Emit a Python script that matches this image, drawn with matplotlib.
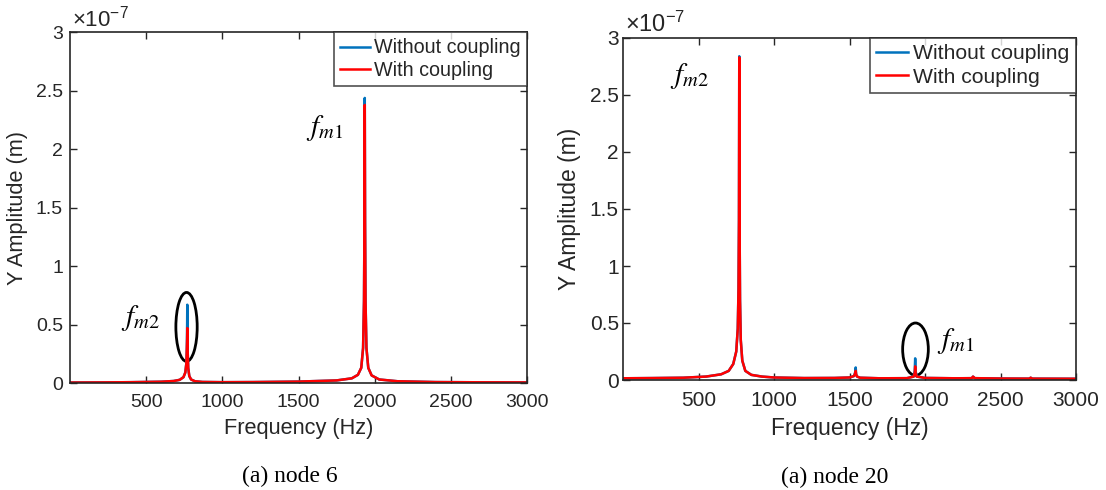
import matplotlib
matplotlib.use("Agg")
import matplotlib.pyplot as plt
from matplotlib.patches import Ellipse
from matplotlib.ticker import FuncFormatter
import numpy as np

# ---------------- data (amplitudes in units of 1e-7 m) ----------------
left_freq = [0, 200, 400, 600, 680, 720, 745, 757, 764, 767,
             769, 770, 771, 773, 776, 783, 795, 820, 870, 1000,
             1200, 1500, 1750, 1850, 1890, 1912, 1924, 1930, 1933, 1935,
             1937, 1940, 1946, 1958, 1980, 2030, 2150, 2400, 2700, 3000]
left_without = [0.004, 0.005, 0.007, 0.011, 0.017, 0.027, 0.05, 0.09, 0.17, 0.3,
                0.5, 0.67, 0.5, 0.25, 0.13, 0.06, 0.03, 0.015, 0.009, 0.007,
                0.008, 0.012, 0.022, 0.04, 0.07, 0.13, 0.3, 0.7, 1.4, 2.44,
                1.4, 0.7, 0.3, 0.13, 0.065, 0.03, 0.015, 0.008, 0.006, 0.005]
left_with = [0.004, 0.005, 0.007, 0.011, 0.017, 0.027, 0.05, 0.09, 0.17, 0.3,
             0.38, 0.47, 0.38, 0.25, 0.13, 0.06, 0.03, 0.015, 0.009, 0.007,
             0.008, 0.012, 0.022, 0.04, 0.07, 0.13, 0.3, 0.7, 1.35, 2.38,
             1.35, 0.7, 0.3, 0.13, 0.065, 0.03, 0.015, 0.008, 0.006, 0.005]

right_freq = [0, 200, 400, 550, 650, 700, 730, 750, 760, 765,
              768, 770, 772, 775, 780, 790, 810, 850, 920, 1000,
              1200, 1400, 1500, 1530, 1538, 1541, 1544, 1550, 1570, 1700,
              1880, 1925, 1932, 1935, 1938, 1945, 2000, 2200, 2310, 2318,
              2322, 2330, 2500, 2690, 2700, 2710, 3000]
right_without = [0.015, 0.017, 0.02, 0.03, 0.05, 0.08, 0.14, 0.25, 0.45, 0.8,
                 1.4, 2.84, 1.4, 0.7, 0.35, 0.17, 0.08, 0.045, 0.03, 0.022,
                 0.017, 0.018, 0.022, 0.035, 0.07, 0.11, 0.05, 0.03, 0.02, 0.015,
                 0.016, 0.03, 0.08, 0.19, 0.08, 0.03, 0.018, 0.015, 0.016, 0.03,
                 0.025, 0.016, 0.013, 0.012, 0.02, 0.012, 0.011]
right_with = [0.015, 0.017, 0.02, 0.03, 0.05, 0.08, 0.14, 0.25, 0.45, 0.8,
              1.4, 2.83, 1.4, 0.7, 0.35, 0.17, 0.08, 0.045, 0.03, 0.022,
              0.017, 0.018, 0.022, 0.035, 0.06, 0.08, 0.05, 0.03, 0.02, 0.015,
              0.016, 0.03, 0.06, 0.12, 0.06, 0.03, 0.018, 0.015, 0.016, 0.03,
              0.025, 0.016, 0.013, 0.012, 0.02, 0.012, 0.011]

series_labels = ["Without coupling", "With coupling"]
x_ticks = [500, 1000, 1500, 2000, 2500, 3000]
y_ticks = [0, 0.5, 1, 1.5, 2, 2.5, 3]
captions = ["(a) node 6", "(a) node 20"]
SCALE = 1e-7

BLUE = "#0072BD"
RED = "#FF0000"
DARK = "#262626"

plt.rcParams["font.family"] = ["Liberation Sans", "DejaVu Sans"]
plt.rcParams["mathtext.fontset"] = "stix"

fig = plt.figure(figsize=(11.06, 4.90), dpi=100)

W, H = 1106, 490
# per-panel layout (pixel boxes) and text sizes
cfg = [
    dict(box=(70, 32.5, 527, 383), tick=14, lab=15.7, leg=14.2, off=16),
    dict(box=(623, 38, 1076, 380), tick=15, lab=16.5, leg=15.2, off=17),
]
panels = [
    (left_freq, left_without, left_with),
    (right_freq, right_without, right_with),
]

fmt = FuncFormatter(lambda v, p: "%g" % round(v / SCALE, 3))

for i, (c, (fr, wo, wi)) in enumerate(zip(cfg, panels)):
    x0, y0, x1, y1 = c["box"]
    ax = fig.add_axes([x0 / W, 1 - y1 / H, (x1 - x0) / W, (y1 - y0) / H])
    ax.plot(fr, np.array(wo) * SCALE, color=BLUE, lw=1.8, label=series_labels[0])
    ax.plot(fr, np.array(wi) * SCALE, color=RED, lw=1.8, label=series_labels[1])
    ax.set_xlim(0, 3000)
    ax.set_ylim(0, 3 * SCALE)
    ax.set_xticks(x_ticks)
    ax.set_yticks(np.array(y_ticks) * SCALE)
    ax.yaxis.set_major_formatter(fmt)
    ax.tick_params(direction="in", top=True, right=True, length=5, width=1,
                   labelsize=c["tick"], colors=DARK)
    ax.tick_params(axis="x", pad=8)
    ax.tick_params(axis="y", pad=5 if i == 0 else 3)
    ax.text(0.005, 1.003, r"$\mathregular{\times10^{-7}}$", transform=ax.transAxes,
            fontsize=c["off"], color=DARK, ha="left", va="bottom")
    for s in ax.spines.values():
        s.set_color(DARK)
        s.set_linewidth(1.2)
    ax.set_xlabel("Frequency (Hz)", fontsize=c["lab"], color=DARK, labelpad=5)
    ax.set_ylabel("Y Amplitude (m)", fontsize=c["lab"], color=DARK, labelpad=6)
    leg = ax.legend(loc="upper right", bbox_to_anchor=(1.0, 1.0), borderaxespad=0,
                    fontsize=c["leg"], frameon=True, fancybox=False, handlelength=1.5,
                    handletextpad=0.25, borderpad=0.3, labelspacing=0.2)
    leg.get_frame().set_edgecolor(DARK)
    leg.get_frame().set_linewidth(1.2)
    for t in leg.get_texts():
        t.set_color(DARK)
    if i == 0:
        ax.add_patch(Ellipse((765, 0.48 * SCALE), 140, 0.59 * SCALE, fill=False,
                             ec="black", lw=2))
        ax.text(460, 0.56 * SCALE, r"$f_{m2}$", fontsize=21, ha="center", va="center")
        ax.text(1670, 2.18 * SCALE, r"$f_{m1}$", fontsize=21, ha="center", va="center")
    else:
        ax.add_patch(Ellipse((1937, 0.27 * SCALE), 170, 0.46 * SCALE, fill=False,
                             ec="black", lw=2))
        ax.text(440, 2.67 * SCALE, r"$f_{m2}$", fontsize=21, ha="center", va="center")
        ax.text(2200, 0.34 * SCALE, r"$f_{m1}$", fontsize=21, ha="center", va="center")

fig.text(290 / W, 1 - 476 / H, captions[0], fontsize=17, family="Liberation Serif",
         ha="center", va="center", color="black")
fig.text(835 / W, 1 - 477 / H, captions[1], fontsize=17, family="Liberation Serif",
         ha="center", va="center", color="black")

fig.savefig("out.png", dpi=100)
